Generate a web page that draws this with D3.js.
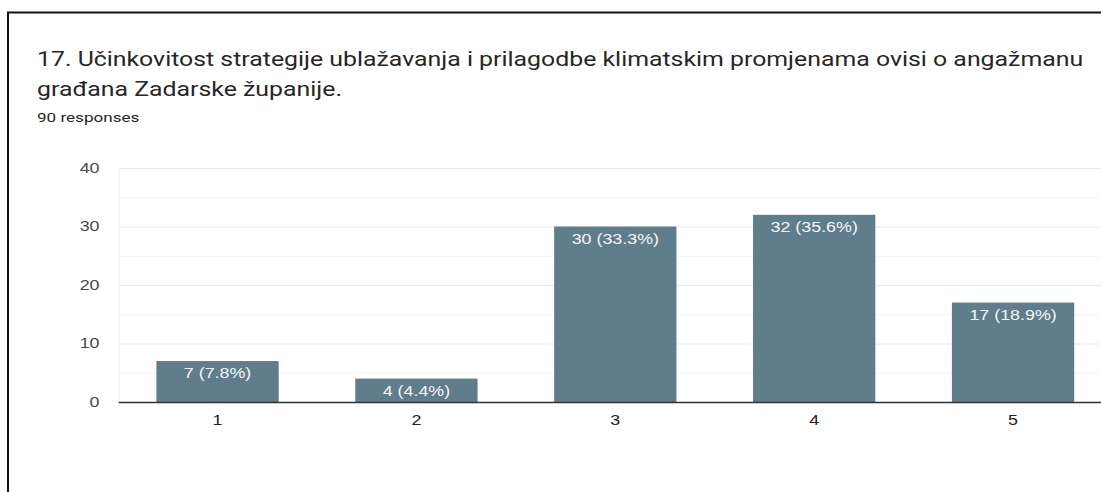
<!DOCTYPE html>
<html>
<head>
<meta charset="utf-8">
<script src="https://cdn.jsdelivr.net/npm/d3@7"></script>
<style>
  body { margin: 0; background: #fff; }
  svg { display: block; }
</style>
</head>
<body>
<svg id="chart" width="1101" height="492"></svg>
<script>
const categories = ["1", "2", "3", "4", "5"];
const counts = [7, 4, 30, 32, 17];
const percents = ["7.8%", "4.4%", "33.3%", "35.6%", "18.9%"];
const yTicks = [0, 10, 20, 30, 40];
const titleLines = [
  "17. Učinkovitost strategije ublažavanja i prilagodbe klimatskim promjenama ovisi o angažmanu",
  "građana Zadarske županije."
];
const subtitle = "90 responses";

const svg = d3.select("#chart");
const W = 1101, H = 492;
// the screenshot is stretched sideways, so text gets a matching squeeze
const sx = 1.275;

// frame of the screenshot
svg.append("rect").attr("width", W).attr("height", H).attr("fill", "#fff");
svg.append("line").attr("x1", 7).attr("x2", W).attr("y1", 12.5).attr("y2", 12.5)
  .attr("stroke", "#111").attr("stroke-width", 2);
svg.append("line").attr("x1", 8).attr("x2", 8).attr("y1", 12).attr("y2", H)
  .attr("stroke", "#111").attr("stroke-width", 2);

// title
titleLines.forEach((t, i) => {
  svg.append("text").text(t)
    .attr("transform", `translate(37,${66 + i * 29.5}) scale(${sx},1)`)
    .style("font-family", "Roboto, sans-serif")
    .style("font-size", "19.5px")
    .style("fill", "#262626");
});
svg.append("text").text(subtitle)
  .attr("transform", `translate(37,121.5) scale(${sx},1)`)
  .style("font-family", "Roboto, sans-serif")
  .style("font-size", "13.4px")
  .style("fill", "#262626");

// plot area
const pLeft = 118.6, pRight = 1112, pTop = 168, pBottom = 402;

const x = d3.scaleBand().domain(categories).range([pLeft, pRight]).paddingInner(0.385).paddingOuter(0.19);
const y = d3.scaleLinear().domain([0, 40]).range([pBottom, pTop]);

const g = svg.append("g");

// minor grid
g.selectAll("line.minor").data(d3.range(5, 40, 10)).join("line")
  .attr("class", "minor")
  .attr("x1", pLeft).attr("x2", W)
  .attr("y1", d => y(d) + 0.5).attr("y2", d => y(d) + 0.5)
  .attr("stroke", "#f3f3f3");
// major grid
g.selectAll("line.major").data(yTicks.slice(1)).join("line")
  .attr("class", "major")
  .attr("x1", pLeft).attr("x2", W)
  .attr("y1", d => y(d) + 0.5).attr("y2", d => y(d) + 0.5)
  .attr("stroke", "#e8e8e8");
g.append("line").attr("x1", pLeft + 0.5).attr("x2", pLeft + 0.5).attr("y1", pTop).attr("y2", pBottom)
  .attr("stroke", "#ececec");

// y tick labels
const yAxis = d3.axisLeft(y).tickValues(yTicks).tickSize(0).tickPadding(0);
const ya = svg.append("g").attr("transform", "translate(99.5,0)").call(yAxis);
ya.select(".domain").remove();
ya.selectAll("text")
  .attr("transform", `scale(${sx},1)`)
  .style("font-family", "Arial, 'Liberation Sans', sans-serif")
  .style("font-size", "14px")
  .style("fill", "#4a4a4a");

// bars
const data = categories.map((c, i) => ({ c, v: counts[i], p: percents[i] }));
g.selectAll("rect.bar").data(data).join("rect")
  .attr("class", "bar")
  .attr("x", d => x(d.c))
  .attr("width", x.bandwidth())
  .attr("y", d => y(d.v))
  .attr("height", d => y(0) - y(d.v))
  .attr("fill", "#607d8b");

g.selectAll("text.lbl").data(data).join("text")
  .attr("class", "lbl")
  .attr("transform", d => `translate(${x(d.c) + x.bandwidth() / 2},${y(d.v) + 17}) scale(${sx},1)`)
  .attr("text-anchor", "middle")
  .style("font-family", "Arial, 'Liberation Sans', sans-serif")
  .style("font-size", "14px")
  .style("fill", "#f4f6f7")
  .text(d => `${d.v} (${d.p})`);

// baseline
g.append("line").attr("x1", pLeft).attr("x2", W).attr("y1", pBottom + 0.5).attr("y2", pBottom + 0.5)
  .attr("stroke", "#333").attr("stroke-width", 1.3);

// x labels
const xAxis = d3.axisBottom(x).tickSize(0).tickPadding(0);
const xa = svg.append("g").attr("transform", `translate(0,${pBottom + 13})`).call(xAxis);
xa.select(".domain").remove();
xa.selectAll("text")
  .attr("dy", "0.71em")
  .attr("transform", `scale(${sx},1)`)
  .style("font-family", "Arial, 'Liberation Sans', sans-serif")
  .style("font-size", "14px")
  .style("fill", "#222");
</script>
</body>
</html>
